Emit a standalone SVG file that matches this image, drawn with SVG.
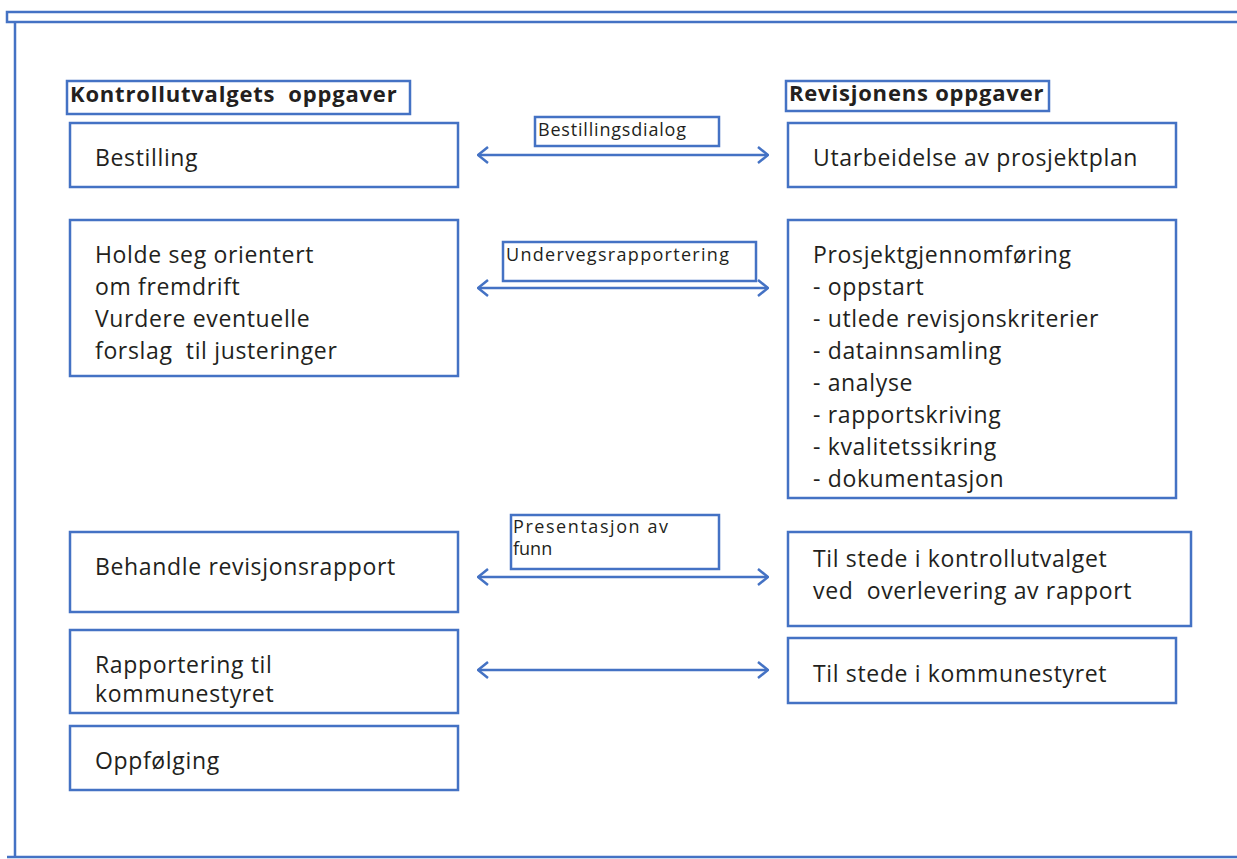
<svg xmlns="http://www.w3.org/2000/svg" width="1237" height="859" viewBox="0 0 1237 859">
<style>
.box{fill:#fff;stroke:#4472C4;stroke-width:2.5}
.frame{fill:none;stroke:#4472C4;stroke-width:2.5}
.t{font-family:"Open Sans","Liberation Sans",sans-serif;font-size:23px;letter-spacing:0.65px;fill:#231f20}
.h{font-family:"Open Sans","Liberation Sans",sans-serif;font-size:22px;font-weight:bold;letter-spacing:0.8px;fill:#231f20}
.l{font-family:"Open Sans","Liberation Sans",sans-serif;font-size:18px;fill:#231f20}
.c{fill:none;stroke:#4472C4;stroke-width:2.5;marker-start:url(#chev);marker-end:url(#chev)}
</style>
<defs>
<marker id="chev" viewBox="0 0 12 18" refX="11" refY="9" markerWidth="12" markerHeight="18" markerUnits="userSpaceOnUse" orient="auto-start-reverse">
<path d="M1,1 L11,9 L1,17" fill="none" stroke="#4472C4" stroke-width="2.5"/>
</marker>
</defs>
<rect width="1237" height="859" fill="#fff"/>
<g id="frame">
<rect class="frame" x="7" y="12" width="1240" height="10"/>
<line class="frame" x1="15" y1="22" x2="15" y2="857"/>
<line class="frame" x1="7" y1="857" x2="1240" y2="857"/>
</g>
<g id="head-left"><rect class="box" x="67" y="81" width="343" height="33"/><text class="h" x="70" y="102" xml:space="preserve">Kontrollutvalgets  oppgaver</text></g>
<g id="head-right"><rect class="box" x="786" y="81" width="263" height="30"/><text class="h" x="789" y="101">Revisjonens oppgaver</text></g>
<g id="l1"><rect class="box" x="70" y="123" width="388" height="64"/><text class="t" x="95" y="166">Bestilling</text></g>
<g id="r1"><rect class="box" x="788" y="123" width="388" height="64"/><text class="t" x="813" y="166">Utarbeidelse av prosjektplan</text></g>
<g id="l2"><rect class="box" x="70" y="220" width="388" height="156"/>
<text class="t" xml:space="preserve"><tspan x="95" y="263">Holde seg orientert</tspan><tspan x="95" y="295">om fremdrift</tspan><tspan x="95" y="327">Vurdere eventuelle</tspan><tspan x="95" y="359">forslag  til justeringer</tspan></text></g>
<g id="r2"><rect class="box" x="788" y="220" width="388" height="278"/>
<text class="t"><tspan x="813" y="263">Prosjektgjennomføring</tspan><tspan x="813" y="295">- oppstart</tspan><tspan x="813" y="327">- utlede revisjonskriterier</tspan><tspan x="813" y="359">- datainnsamling</tspan><tspan x="813" y="391">- analyse</tspan><tspan x="813" y="423">- rapportskriving</tspan><tspan x="813" y="455">- kvalitetssikring</tspan><tspan x="813" y="487">- dokumentasjon</tspan></text></g>
<g id="l3"><rect class="box" x="70" y="532" width="388" height="80"/><text class="t" x="95" y="575">Behandle revisjonsrapport</text></g>
<g id="r3"><rect class="box" x="788" y="532" width="403" height="94"/>
<text class="t" xml:space="preserve"><tspan x="813" y="567">Til stede i kontrollutvalget</tspan><tspan x="813" y="599">ved  overlevering av rapport</tspan></text></g>
<g id="l4"><rect class="box" x="70" y="630" width="388" height="83"/>
<text class="t"><tspan x="95" y="673">Rapportering til</tspan><tspan x="95" y="702">kommunestyret</tspan></text></g>
<g id="r4"><rect class="box" x="788" y="638" width="388" height="65"/><text class="t" x="813" y="682">Til stede i kommunestyret</text></g>
<g id="l5"><rect class="box" x="70" y="726" width="388" height="64"/><text class="t" x="95" y="769">Oppfølging</text></g>
<g id="label1"><rect class="box" x="535" y="117" width="184" height="29"/><text class="l" x="538" y="136" textLength="148" lengthAdjust="spacing">Bestillingsdialog</text></g>
<g id="label2"><rect class="box" x="503" y="242" width="253" height="39"/><text class="l" x="506" y="261" textLength="223" lengthAdjust="spacing">Undervegsrapportering</text></g>
<g id="label3"><rect class="box" x="511" y="515" width="208" height="54"/>
<text class="l" x="513" y="533" textLength="155" lengthAdjust="spacing">Presentasjon av</text><text class="l" x="513" y="555">funn</text></g>
<g id="connectors">
<line class="c" x1="478" y1="155" x2="768" y2="155"/>
<line class="c" x1="478" y1="288" x2="768" y2="288"/>
<line class="c" x1="478" y1="577" x2="768" y2="577"/>
<line class="c" x1="478" y1="670" x2="768" y2="670"/>
</g>
</svg>
